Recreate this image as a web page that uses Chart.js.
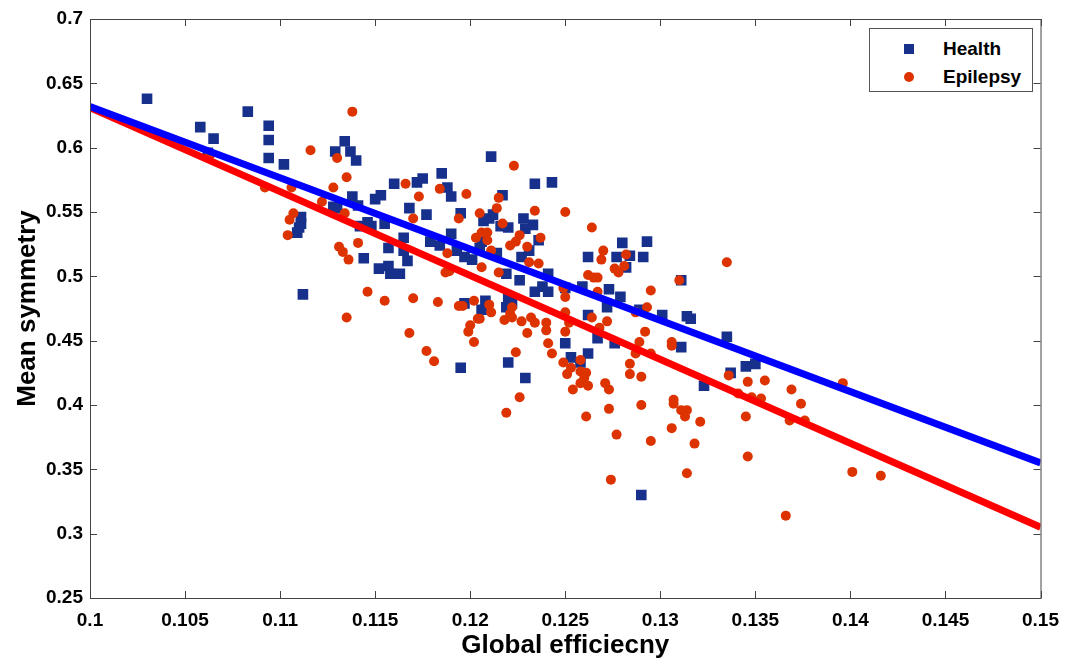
<!DOCTYPE html>
<html>
<head>
<meta charset="utf-8">
<script src="https://cdn.jsdelivr.net/npm/chart.js@4"></script>
<style>
  html, body { margin: 0; padding: 0; background: #fff; }
  #wrap { position: relative; width: 1070px; height: 661px; }
  #legend {
    position: absolute; left: 869px; top: 28px; width: 164px; height: 64px;
    border: 1px solid #555; background: #fff; box-sizing: border-box;
    font: bold 19px "Liberation Sans", Arial, sans-serif; color: #000;
  }
  #legend .row { position: absolute; left: 0; height: 20px; line-height: 20px; }
  #legend .mk { position: absolute; left: 34px; top: 5px; width: 10px; height: 10px; }
  #legend .txt { position: absolute; left: 73px; top: 0; white-space: nowrap; }
</style>
</head>
<body>
<div id="wrap">
  <canvas id="chart" width="1070" height="661"></canvas>
  <div id="legend">
    <div class="row" style="top:10px"><span class="mk" style="background:#16308c"></span><span class="txt">Health</span></div>
    <div class="row" style="top:38px"><span class="mk" style="background:#dd3300;border-radius:50%"></span><span class="txt">Epilepsy</span></div>
  </div>
</div>
<script>
const xTickLabels = ['0.1', '0.105', '0.11', '0.115', '0.12', '0.125', '0.13', '0.135', '0.14', '0.145', '0.15'];
const yTickLabels = ['0.25', '0.3', '0.35', '0.4', '0.45', '0.5', '0.55', '0.6', '0.65', '0.7'];

const healthX = [
  0.1030, 0.1058, 0.1065, 0.1083, 0.1094, 0.1094, 0.1094, 0.1102, 0.1062, 0.1134,
  0.1129, 0.1137, 0.1140, 0.1160, 0.1172, 0.1175, 0.1185, 0.1188, 0.1190, 0.1138,
  0.1128, 0.1130, 0.1141, 0.1150, 0.1153, 0.1111, 0.1111, 0.1110, 0.1109, 0.1168,
  0.1177, 0.1146, 0.1148, 0.1142, 0.1155, 0.1165, 0.1157, 0.1165, 0.1167, 0.1144,
  0.1152, 0.1157, 0.1158, 0.1163, 0.1112, 0.1179, 0.1184, 0.1190, 0.1193, 0.1197,
  0.1201, 0.1205, 0.1195, 0.1197, 0.1211, 0.1217, 0.1234, 0.1243, 0.1207, 0.1210,
  0.1212, 0.1216, 0.1220, 0.1228, 0.1233, 0.1229, 0.1206, 0.1214, 0.1219, 0.1227,
  0.1231, 0.1226, 0.1236, 0.1234, 0.1238, 0.1241, 0.1241, 0.1262, 0.1277, 0.1259,
  0.1273, 0.1208, 0.1220, 0.1219, 0.1262, 0.1250, 0.1280, 0.1293, 0.1284, 0.1291,
  0.1282, 0.1311, 0.1250, 0.1279, 0.1272, 0.1289, 0.1301, 0.1314, 0.1316, 0.1267,
  0.1276, 0.1335, 0.1311, 0.1253, 0.1258, 0.1262, 0.1337, 0.1323, 0.1345, 0.1350,
  0.1290, 0.1195, 0.1220, 0.1229, 0.1206, 0.1222
];
const healthY = [
  0.638, 0.616, 0.607, 0.628, 0.617, 0.606, 0.592, 0.587, 0.596, 0.605,
  0.597, 0.597, 0.590, 0.572, 0.573, 0.576, 0.580, 0.569, 0.562, 0.562,
  0.554, 0.553, 0.555, 0.560, 0.563, 0.546, 0.541, 0.538, 0.534, 0.553,
  0.548, 0.542, 0.539, 0.539, 0.541, 0.530, 0.522, 0.520, 0.512, 0.514,
  0.506, 0.508, 0.502, 0.502, 0.486, 0.527, 0.524, 0.533, 0.520, 0.515,
  0.513, 0.522, 0.549, 0.479, 0.593, 0.563, 0.572, 0.573, 0.543, 0.545,
  0.548, 0.539, 0.538, 0.545, 0.540, 0.537, 0.527, 0.518, 0.502, 0.515,
  0.520, 0.497, 0.528, 0.488, 0.492, 0.488, 0.502, 0.515, 0.515, 0.492,
  0.490, 0.481, 0.483, 0.476, 0.470, 0.448, 0.526, 0.527, 0.516, 0.515,
  0.507, 0.497, 0.491, 0.484, 0.476, 0.474, 0.470, 0.469, 0.467, 0.452,
  0.448, 0.453, 0.445, 0.437, 0.433, 0.440, 0.425, 0.415, 0.430, 0.432,
  0.330, 0.429, 0.433, 0.421, 0.474, 0.479
];

const epilepsyX = [
  0.1092, 0.1106, 0.1107, 0.1105, 0.1104, 0.1063, 0.1138, 0.1116, 0.1130, 0.1135,
  0.1128, 0.1122, 0.1134, 0.1166, 0.1173, 0.1184, 0.1198, 0.1170, 0.1194, 0.1203,
  0.1131, 0.1133, 0.1141, 0.1136, 0.1188, 0.1187, 0.1189, 0.1146, 0.1155, 0.1170,
  0.1183, 0.1194, 0.1196, 0.1202, 0.1135, 0.1204, 0.1200, 0.1168, 0.1177, 0.1181,
  0.1223, 0.1250, 0.1234, 0.1264, 0.1215, 0.1214, 0.1205, 0.1217, 0.1226, 0.1224,
  0.1221, 0.1230, 0.1237, 0.1206, 0.1209, 0.1209, 0.1211, 0.1206, 0.1215, 0.1231,
  0.1236, 0.1270, 0.1269, 0.1276, 0.1262, 0.1265, 0.1267, 0.1249, 0.1250, 0.1264,
  0.1272, 0.1268, 0.1250, 0.1252, 0.1250, 0.1210, 0.1211, 0.1205, 0.1199, 0.1202,
  0.1222, 0.1221, 0.1218, 0.1222, 0.1227, 0.1232, 0.1234, 0.1240, 0.1240, 0.1230,
  0.1241, 0.1243, 0.1224, 0.1226, 0.1219, 0.1249, 0.1253, 0.1251, 0.1258, 0.1258,
  0.1261, 0.1260, 0.1258, 0.1254, 0.1262, 0.1271, 0.1273, 0.1273, 0.1261, 0.1277,
  0.1274, 0.1284, 0.1284, 0.1290, 0.1290, 0.1295, 0.1289, 0.1292, 0.1295, 0.1293,
  0.1287, 0.1282, 0.1281, 0.1278, 0.1267, 0.1295, 0.1335, 0.1310, 0.1287, 0.1306,
  0.1306, 0.1336, 0.1307, 0.1346, 0.1355, 0.1369, 0.1374, 0.1341, 0.1348, 0.1353,
  0.1368, 0.1376, 0.1345, 0.1396, 0.1307, 0.1311, 0.1314, 0.1313, 0.1321, 0.1306,
  0.1318, 0.1346, 0.1314, 0.1401, 0.1366, 0.1416
];
const epilepsyY = [
  0.569, 0.569, 0.549, 0.544, 0.532, 0.594, 0.628, 0.598, 0.592, 0.577,
  0.569, 0.558, 0.549, 0.572, 0.562, 0.568, 0.564, 0.545, 0.545, 0.530,
  0.523, 0.519, 0.526, 0.513, 0.518, 0.503, 0.504, 0.488, 0.481, 0.483,
  0.480, 0.477, 0.477, 0.481, 0.468, 0.467, 0.462, 0.456, 0.442, 0.434,
  0.586, 0.550, 0.551, 0.538, 0.561, 0.553, 0.549, 0.541, 0.532, 0.527,
  0.524, 0.523, 0.530, 0.534, 0.534, 0.528, 0.520, 0.507, 0.503, 0.511,
  0.510, 0.520, 0.513, 0.506, 0.501, 0.499, 0.499, 0.491, 0.484, 0.468,
  0.465, 0.460, 0.472, 0.464, 0.457, 0.478, 0.472, 0.467, 0.457, 0.449,
  0.476, 0.471, 0.466, 0.468, 0.465, 0.468, 0.464, 0.464, 0.458, 0.456,
  0.448, 0.440, 0.441, 0.406, 0.394, 0.433, 0.429, 0.424, 0.435, 0.426,
  0.425, 0.421, 0.417, 0.412, 0.415, 0.417, 0.412, 0.397, 0.391, 0.377,
  0.342, 0.432, 0.424, 0.422, 0.400, 0.372, 0.449, 0.457, 0.440, 0.476,
  0.440, 0.517, 0.508, 0.503, 0.488, 0.489, 0.511, 0.497, 0.472, 0.449,
  0.446, 0.423, 0.404, 0.418, 0.419, 0.412, 0.401, 0.409, 0.406, 0.405,
  0.388, 0.388, 0.391, 0.417, 0.401, 0.396, 0.396, 0.391, 0.387, 0.382,
  0.370, 0.360, 0.347, 0.348, 0.314, 0.345
];

// fitted lines, end points read at the axis limits
const healthFitX = [0.1, 0.15];
const healthFitY = [0.632, 0.355];
const epilepsyFitX = [0.1, 0.15];
const epilepsyFitY = [0.631, 0.305];

const toPoints = (xs, ys) => xs.map((x, i) => ({ x, y: ys[i] }));

const FONT = '"Liberation Sans", Arial, sans-serif';

// MATLAB-style box with ticks pointing inward
const framePlugin = {
  id: 'frame',
  afterDatasetsDraw(chart) {
    const { ctx, chartArea: a, scales } = chart;
    const len = 7;
    ctx.save();
    ctx.strokeStyle = '#444';
    ctx.lineWidth = 1;
    ctx.strokeRect(a.left + 0.5, a.top + 0.5, a.right - a.left, a.bottom - a.top);
    ctx.beginPath();
    for (const t of scales.x.ticks) {
      const px = Math.round(scales.x.getPixelForValue(t.value)) + 0.5;
      ctx.moveTo(px, a.bottom);
      ctx.lineTo(px, a.bottom - len);
      ctx.moveTo(px, a.top);
      ctx.lineTo(px, a.top + len);
    }
    for (const t of scales.y.ticks) {
      const py = Math.round(scales.y.getPixelForValue(t.value)) + 0.5;
      ctx.moveTo(a.left, py);
      ctx.lineTo(a.left + len, py);
      ctx.moveTo(a.right, py);
      ctx.lineTo(a.right - len, py);
    }
    ctx.stroke();
    ctx.restore();
  },
};

const ctx = document.querySelector('#chart').getContext('2d');
// eslint-disable-next-line no-undef
new Chart(ctx, {
  type: 'scatter',
  data: {
    datasets: [
      {
        type: 'line',
        label: 'Health fit',
        data: toPoints(healthFitX, healthFitY),
        borderColor: '#0000ff',
        borderWidth: 7,
        pointRadius: 0,
        order: 0,
      },
      {
        type: 'line',
        label: 'Epilepsy fit',
        data: toPoints(epilepsyFitX, epilepsyFitY),
        borderColor: '#ff0000',
        borderWidth: 7,
        pointRadius: 0,
        order: 1,
      },
      {
        label: 'Epilepsy',
        data: toPoints(epilepsyX, epilepsyY),
        pointStyle: 'circle',
        pointRadius: 5,
        backgroundColor: '#dd3300',
        borderColor: '#dd3300',
        borderWidth: 0,
        order: 2,
      },
      {
        label: 'Health',
        data: toPoints(healthX, healthY),
        pointStyle: 'rect',
        pointRadius: 7.5,
        backgroundColor: '#16308c',
        borderColor: '#16308c',
        borderWidth: 0,
        order: 3,
      },
    ],
  },
  options: {
    responsive: false,
    animation: false,
    layout: { padding: { left: 0, right: 27, top: 19, bottom: 0 } },
    plugins: { legend: { display: false }, tooltip: { enabled: false } },
    scales: {
      x: {
        type: 'linear',
        min: 0.1,
        max: 0.15,
        grid: { display: false, drawTicks: false },
        border: { display: false },
        ticks: {
          stepSize: 0.005,
          padding: 11,
          color: '#000',
          font: { family: FONT, size: 19, weight: 'bold' },
          callback: (v, i) => xTickLabels[i],
        },
        title: {
          display: true,
          text: 'Global efficiecny',
          color: '#000',
          font: { family: FONT, size: 26, weight: 'bold' },
          padding: { top: 0, bottom: 0 },
        },
        afterFit: (s) => { s.height = 63; },
      },
      y: {
        type: 'linear',
        min: 0.25,
        max: 0.7,
        grid: { display: false, drawTicks: false },
        border: { display: false },
        ticks: {
          stepSize: 0.05,
          padding: 7,
          color: '#000',
          font: { family: FONT, size: 19, weight: 'bold' },
          callback: (v, i) => yTickLabels[i],
        },
        title: {
          display: true,
          text: 'Mean symmetry',
          color: '#000',
          font: { family: FONT, size: 26, weight: 'bold' },
          padding: { top: 12, bottom: 0 },
        },
        afterFit: (s) => { s.width = 90; },
      },
    },
  },
  plugins: [framePlugin],
});
</script>
</body>
</html>
